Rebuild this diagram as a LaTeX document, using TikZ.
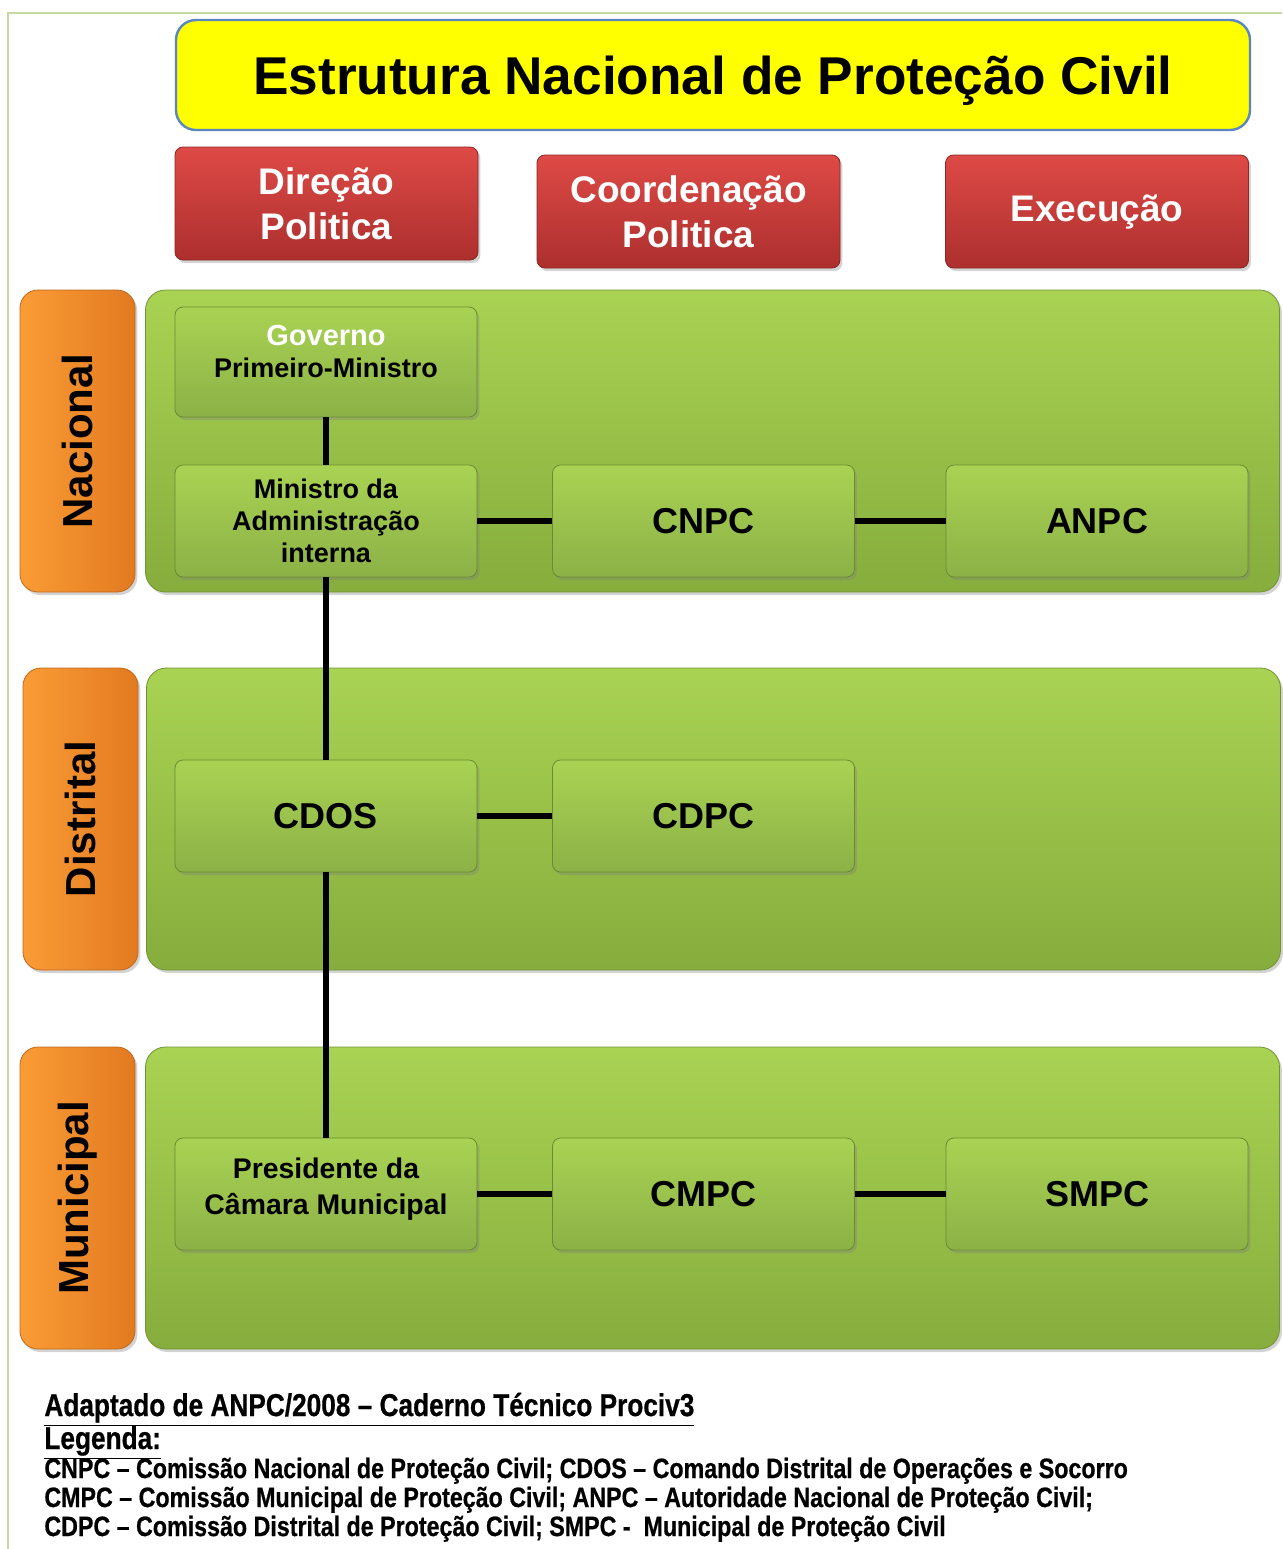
\documentclass[tikz,border=0pt]{standalone}
\usepackage{fontspec}
\setmainfont{Liberation Sans}
\newfontfamily\legfont{Liberation Sans}[FakeStretch=0.83,FakeBold=0.6]
\usetikzlibrary{shadows}
\definecolor{amarelo}{HTML}{FFFF00}
\definecolor{azul}{HTML}{5A86C0}
\definecolor{verm1}{HTML}{DE4A46}
\definecolor{verm2}{HTML}{AC2F2E}
\definecolor{lar1}{HTML}{FA9C36}
\definecolor{lar2}{HTML}{E27A20}
\definecolor{verde1}{HTML}{A9D353}
\definecolor{verde2}{HTML}{86AD3D}
\definecolor{moldura}{HTML}{C6D9A0}

\begin{document}
\begin{tikzpicture}[x=0.5pt,y=-0.5pt,
		sombra/.style={drop shadow={shadow xshift=1.2pt,shadow yshift=-1.5pt,opacity=0.35}},
		titulo/.style={draw=azul,line width=1.2pt,fill=amarelo,rounded corners=10pt,minimum width=537pt,minimum height=55pt,text height=19pt,text depth=0pt,font=\bfseries\fontsize{26.6}{30}\selectfont},
		nivel/.style={sombra,top color=verm1,bottom color=verm2,draw=verm2!80!black,rounded corners=4pt,minimum width=151.5pt,minimum height=56.5pt,text=white,align=center,font=\bfseries\fontsize{18.5}{22.5}\selectfont},
		escala/.style={sombra,rotate=90,left color=lar1,right color=lar2,draw=lar2!85!black,rounded corners=9pt,minimum width=151pt,minimum height=57.5pt,font=\bfseries\fontsize{21}{24}\selectfont},
		painel/.style={sombra,top color=verde1,bottom color=verde2,draw=verde2!85!black,rounded corners=10pt,minimum width=567pt,minimum height=151pt},
		caixa/.style={sombra,top color=verde1,bottom color=verde2!95!white,draw=verde2!80!black,rounded corners=4pt,minimum width=151pt,minimum height=56pt,align=center,font=\bfseries\fontsize{13.5}{16}\selectfont},
		sigla/.style={caixa,font=\bfseries\fontsize{18}{21}\selectfont},
		linha/.style={line width=3pt},
		legenda/.style={anchor=base west,inner sep=0pt,font=\legfont\bfseries\fontsize{14}{16}\selectfont}]
		\useasboundingbox (0,0) rectangle (1282,1549);
		\draw[moldura,line width=1pt] (8,1549) -- (8,13) -- (1282,13); %moldura
		\node[titulo] (titulo) at (713,75) {Estrutura Nacional de Proteção Civil};
		\node[nivel] (direcao) at (326.5,203.5) {Direção\\Politica};
		\node[nivel] (coord) at (688.5,211.5) {Coordenação\\Politica};
		\node[nivel] (exec) at (1097,211.5) {Execução};
		% niveis
		\node[escala] (nac) at (77.5,441) {Nacional};
		\node[escala] (dist) at (80.5,819) {Distrital};
		\node[escala] (mun) at (77.5,1198) {Municipal};
		\node[painel] (pnac) at (712.5,441) {};
		\node[painel] (pdist) at (713.5,819) {};
		\node[painel] (pmun) at (712.5,1198) {};
		% caixas
		\node[caixa,minimum height=55pt,text depth=11pt] (gov) at (326,362) {\textcolor{white}{\fontsize{14.5}{17}\selectfont Governo}\\Primeiro-Ministro};
		\node[caixa,text depth=0pt] (min) at (326,521) {Ministro da\\Administração\\interna};
		\node[sigla] (cnpc) at (703.5,521) {CNPC};
		\node[sigla] (anpc) at (1097,521) {ANPC};
		\node[sigla] (cdos) at (326,816) {CDOS};
		\node[sigla] (cdpc) at (703.5,816) {CDPC};
		\node[caixa,text depth=8pt,font=\bfseries\fontsize{14.2}{18}\selectfont] (pres) at (326,1194) {Presidente da\\Câmara Municipal};
		\node[sigla] (cmpc) at (703.5,1194) {CMPC};
		\node[sigla] (smpc) at (1097,1194) {SMPC};
		\draw[linha] (gov) -- (min) (min) -- (cdos) (cdos) -- (pres); %vertical
		\draw[linha] (min) -- (cnpc) (cnpc) -- (anpc) (cdos) -- (cdpc) (pres) -- (cmpc) (cmpc) -- (smpc);
		% legenda
		\node[legenda,font=\legfont\bfseries\fontsize{15.8}{17}\selectfont] (fonte) at (44,1416) {\underline{Adaptado de ANPC/2008 – Caderno Técnico Prociv3}};
		\node[legenda,font=\legfont\bfseries\fontsize{15.8}{17}\selectfont] (leg) at (44,1449) {\underline{Legenda:}};
		\node[legenda] (leg1) at (44,1478) {CNPC – Comissão Nacional de Proteção Civil; CDOS – Comando Distrital de Operações e Socorro};
		\node[legenda] (leg2) at (44,1507) {CMPC – Comissão Municipal de Proteção Civil; ANPC – Autoridade Nacional de Proteção Civil;};
		\node[legenda] (leg3) at (44,1536) {CDPC – Comissão Distrital de Proteção Civil; SMPC -\ \ Municipal de Proteção Civil};
	\end{tikzpicture}
\end{document}
